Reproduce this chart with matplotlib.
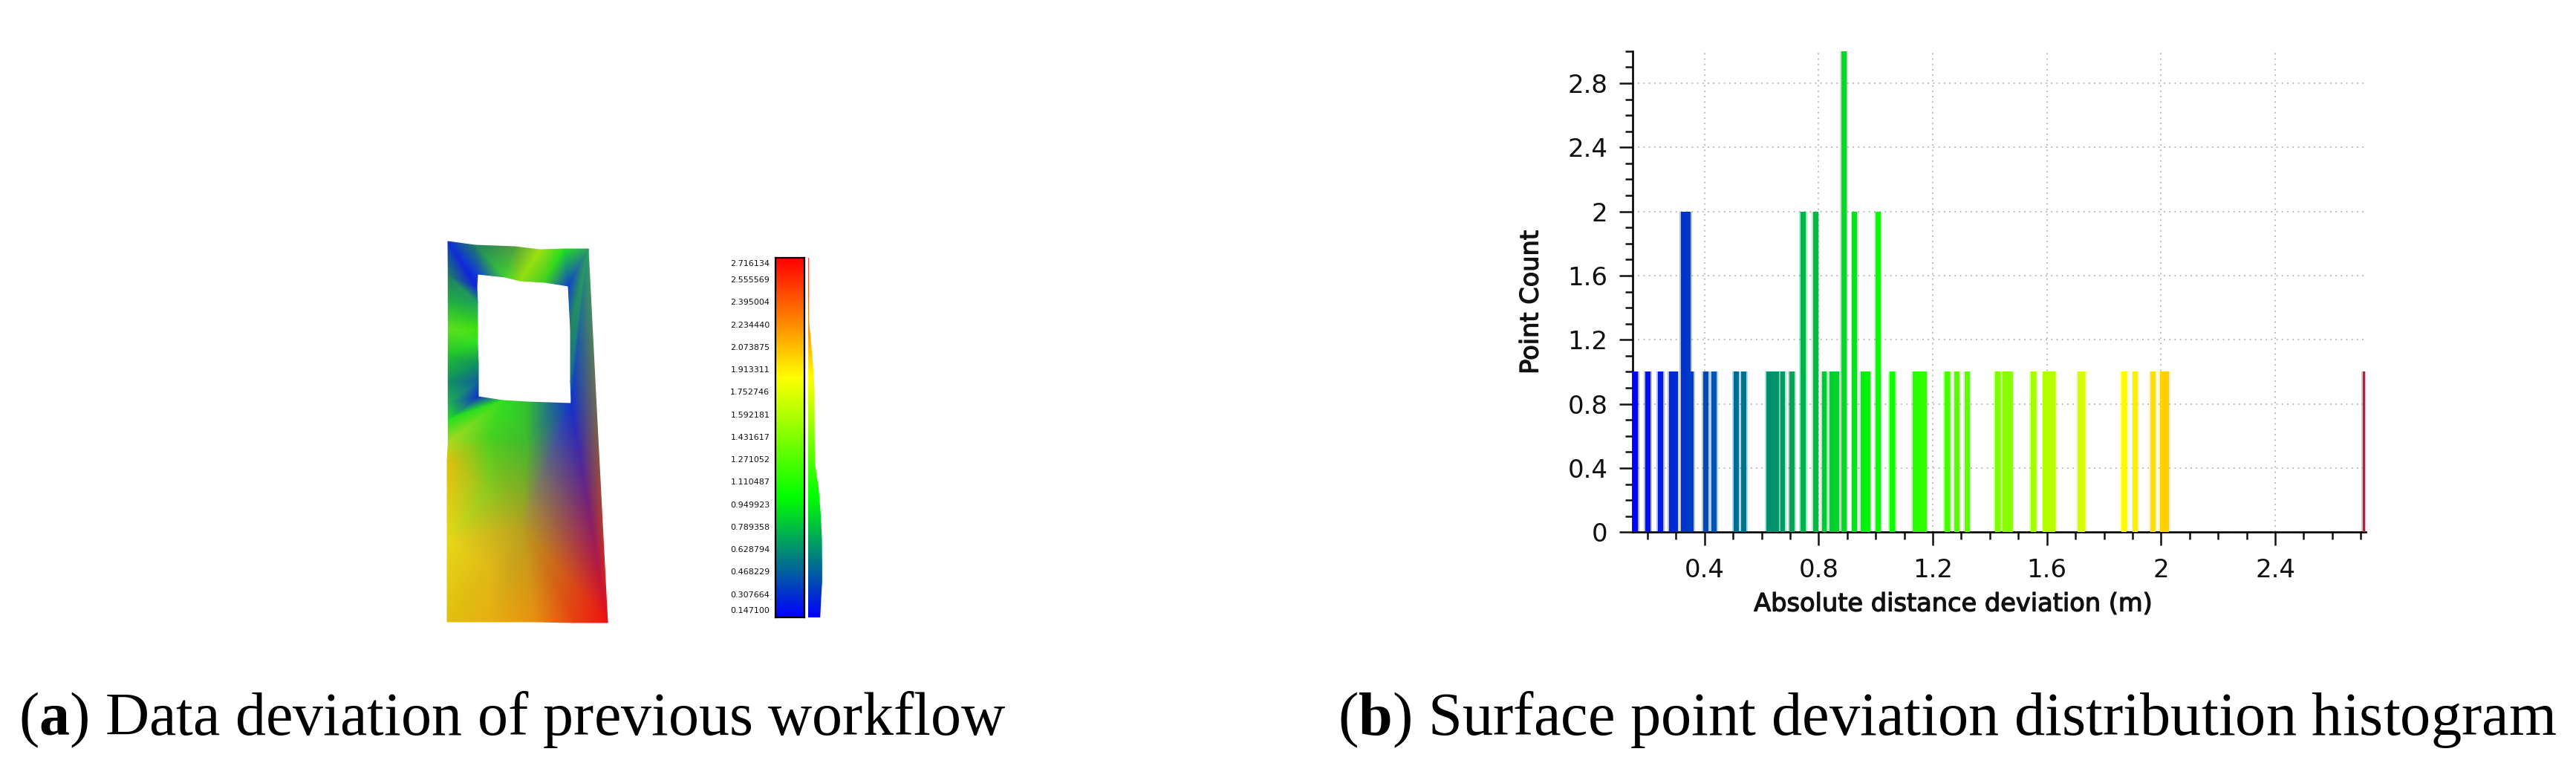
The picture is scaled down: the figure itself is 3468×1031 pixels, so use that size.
#!/usr/bin/python3

import matplotlib
matplotlib.use("Agg")
import matplotlib.pyplot as plt
import matplotlib.patheffects as pe
from matplotlib.collections import TriMesh
from matplotlib.colors import LinearSegmentedColormap, to_rgba
from matplotlib.patches import Polygon
from matplotlib.tri import Triangulation
import numpy as np

W, H = 3468, 1031

plt.rcParams["mathtext.fontset"] = "custom"
plt.rcParams["mathtext.rm"] = "Liberation Serif"
plt.rcParams["mathtext.bf"] = "Liberation Serif:bold"

# --- (a) surface, vertices and their colours
mesh_x = [603, 603.3, 603.3, 603.3, 603.3, 603.3, 603.3, 603.3, 603.3, 602, 602, 602,
          643, 642, 643, 643, 643, 644, 644, 644,
          677, 710, 740, 769, 768, 768, 765, 733, 700, 680,
          640, 693, 727, 760, 792, 818, 720, 773, 660, 710, 660, 703, 803, 660, 660]
mesh_y = [325, 371, 407, 443, 479, 514, 543, 564, 596, 621, 728, 837,
          369, 386, 407, 443, 461, 489, 514, 534,
          539, 541, 542, 543, 514, 443, 385, 380, 378, 373,
          330, 332, 336, 335, 335, 838, 837, 838, 837, 596, 590, 711, 550, 657, 764]
mesh_color = ["#1030d0", "#208060", "#20b040", "#60e020", "#20c030", "#109060", "#20b050", "#20e020",
              "#b0d820", "#e0c010", "#e8d818", "#e0c010",
              "#1040d0", "#1020e0", "#20a060", "#40e010", "#30e020", "#109060", "#1060a0", "#1030d0",
              "#30e020", "#30c030", "#207090", "#1030d0", "#1a6c90", "#208860", "#1040d0",
              "#40d020", "#90e010", "#40d030",
              "#208060", "#50a040", "#a0e010", "#20e020", "#30a060",
              "#f01010", "#e89010", "#e84010", "#e8b010", "#40b830", "#48d020", "#b8a020", "#706850",
              "#88c820", "#e0b818"]
mesh_tri = [(0, 1, 13), (0, 13, 12), (0, 12, 30), (30, 12, 29), (30, 29, 31), (31, 29, 28),
            (31, 28, 32), (32, 28, 27), (32, 27, 33), (33, 27, 26), (33, 26, 34),
            (1, 13, 14), (1, 14, 2), (2, 14, 15), (2, 15, 3), (3, 15, 16), (3, 16, 4),
            (4, 16, 17), (4, 17, 5), (5, 17, 18), (5, 18, 6), (6, 18, 19), (6, 19, 7),
            (7, 19, 20), (7, 20, 8), (8, 20, 40), (8, 40, 9), (9, 40, 43), (40, 41, 43), (40, 20, 39),
            (20, 21, 39), (21, 22, 39), (22, 23, 39), (39, 23, 41), (40, 39, 41),
            (9, 43, 10), (10, 43, 41), (10, 41, 44), (10, 44, 11), (11, 44, 38), (44, 41, 38),
            (38, 41, 36), (36, 41, 37), (37, 41, 35), (41, 23, 35),
            (26, 34, 25), (25, 34, 24), (24, 34, 23), (23, 34, 42), (23, 42, 35)]

# colour scale of (a)
scale_labels = ["2.716134", "2.555569", "2.395004", "2.234440", "2.073875", "1.913311",
                "1.752746", "1.592181", "1.431617", "1.271052", "1.110487", "0.949923",
                "0.789358", "0.628794", "0.468229", "0.307664", "0.147100"]
side_value = [2.716, 2.268, 2.143, 1.963, 1.784, 1.425, 1.246, 1.067, 0.887, 0.708,
              0.529, 0.403, 0.296, 0.147]
side_count = [0.7, 1, 3.4, 6.4, 8.4, 8.8, 9.1, 14.2, 16.9, 18.6, 18.9, 18.9, 17.6, 16.2]

# --- (b) histogram
bar_pos = [0.158, 0.202, 0.246, 0.284, 0.297, 0.327, 0.343, 0.354, 0.405, 0.433, 0.511, 0.538,
           0.626, 0.640, 0.653, 0.674, 0.707, 0.745, 0.789, 0.820, 0.846, 0.863, 0.889, 0.926,
           0.957, 0.972, 1.008, 1.058, 1.139, 1.155, 1.170, 1.250, 1.285, 1.320, 1.428, 1.454,
           1.471, 1.552, 1.595, 1.612, 1.620, 1.717, 1.726, 1.870, 1.910, 1.971, 2.004, 2.019,
           2.711]
bar_count = [1, 1, 1, 1, 1, 2, 2, 1, 1, 1, 1, 1,
             1, 1, 1, 1, 1, 2, 2, 1, 1, 1, 3, 2,
             1, 1, 2, 1, 1, 1, 1, 1, 1, 1, 1, 1,
             1, 1, 1, 1, 1, 1, 1, 1, 1, 1, 1, 1,
             1]
x_major = [0.4, 0.8, 1.2, 1.6, 2.0, 2.4]
x_major_labels = ["0.4", "0.8", "1.2", "1.6", "2", "2.4"]
y_major = [0, 0.4, 0.8, 1.2, 1.6, 2.0, 2.4, 2.8]
y_major_labels = ["0", "0.4", "0.8", "1.2", "1.6", "2", "2.4", "2.8"]
x_minor = [0.2, 0.3, 0.5, 0.6, 0.7, 0.9, 1.0, 1.1, 1.3, 1.4, 1.5, 1.7, 1.8, 1.9, 2.1, 2.2, 2.3, 2.5, 2.6, 2.7]
y_minor = [0.1, 0.2, 0.3, 0.5, 0.6, 0.7, 0.9, 1.0, 1.1, 1.3, 1.4, 1.5, 1.7, 1.8, 1.9, 2.1, 2.2, 2.3, 2.5, 2.6, 2.7, 2.9, 3.0]

val_min, val_max = 0.1471, 2.7161
cmap = LinearSegmentedColormap.from_list("dev", ["#0000ff", "#00ff00", "#ffff00", "#ff0000"])


def px_axes(left, top, right, bottom):
    return fig.add_axes([left / W, 1 - bottom / H, (right - left) / W, (bottom - top) / H])


fig = plt.figure(figsize=(W / 100, H / 100), dpi=100, facecolor="white")

# whole figure in pixels, for the surface and the captions
ax = fig.add_axes([0, 0, 1, 1])
ax.set_xlim(0, W)
ax.set_ylim(H, 0)
ax.axis("off")

tri = Triangulation(mesh_x, mesh_y, mesh_tri)
mesh = TriMesh(tri)
# vertex colours are blended in RGB like the original viewer does (blue to red gives purple)
mesh.set_facecolor([to_rgba(c) for c in mesh_color])
ax.add_collection(mesh)

ax.text(25, 989, r"($\mathbf{a}$) Data deviation of previous workflow", family="Liberation Serif",
        fontsize=59, va="baseline", ha="left", color="black")
ax.text(1801, 989, r"($\mathbf{b}$) Surface point deviation distribution histogram", family="Liberation Serif",
        fontsize=59.3, va="baseline", ha="left", color="black")
semi_bold = [pe.withStroke(linewidth=0.9, foreground="#111111")]
ax.text(2629, 813, "Absolute distance deviation (m)", family="DejaVu Sans",
        fontsize=24.2, ha="center", va="center", color="#111111", path_effects=semi_bold)
ax.text(2061, 407, "Point Count", family="DejaVu Sans", rotation=90,
        fontsize=24.2, ha="center", va="center", color="#111111", path_effects=semi_bold)

# colour scale
ramp = np.linspace(1, 0, 256).reshape(-1, 1)
bar_ax = px_axes(1044, 347, 1083, 831)
bar_ax.imshow(ramp, cmap=cmap, aspect="auto", extent=[0, 1, val_min, val_max])
bar_ax.set_xticks([])
bar_ax.set_yticks([])
for s in bar_ax.spines.values():
    s.set_linewidth(1.6)
for i, label in enumerate(scale_labels):
    v = float(label)
    shift = 0
    if i == 0:
        shift = -5.7  # end labels are pulled into the bar height
    if i == len(scale_labels) - 1:
        shift = 6.7
    bar_ax.annotate(label, xy=(0, v), xycoords=("axes fraction", "data"), xytext=(-5.5, shift),
                    textcoords="offset points", ha="right", va="center", fontsize=8,
                    family="DejaVu Sans", color="#111111", annotation_clip=False)

# little histogram next to the scale
side_ax = px_axes(1088, 347, 1108, 831)
side_ax.set_xlim(0, 20)
side_ax.set_ylim(val_min, val_max)
side_ax.axis("off")
img = side_ax.imshow(ramp, cmap=cmap, aspect="auto", extent=[0, 20, val_min, val_max])
outline = list(zip(side_count, side_value)) + [(0, side_value[-1]), (0, side_value[0])]
clip = Polygon(outline, closed=True, transform=side_ax.transData, facecolor="none", edgecolor="none")
side_ax.add_patch(clip)
img.set_clip_path(clip)

# histogram
hist = px_axes(2197.6, 68.8, 3184.5, 716.3)
hist.set_xlim(val_min, val_max)
hist.set_ylim(0, 3)
hist.patch.set_alpha(0)
bar_colors = cmap((np.array(bar_pos) - val_min) / (val_max - val_min))
bar_colors[-1] = to_rgba("#b0243c")
bar_width = [0.0174] * (len(bar_pos) - 1) + [0.009]
# pale fringe around each bar, the original is a blurry screenshot
hist.bar(bar_pos, bar_count, width=[w + 0.01 for w in bar_width], color=bar_colors, alpha=0.3, zorder=2)
hist.bar(bar_pos, bar_count, width=bar_width, color=bar_colors, zorder=3)

hist.set_xticks(x_major, x_major_labels)
hist.set_yticks(y_major, y_major_labels)
hist.set_xticks(x_minor, minor=True)
hist.set_yticks(y_minor, minor=True)
hist.tick_params(which="major", length=13, width=1.8, labelsize=24.5, colors="#111111")
hist.tick_params(axis="x", which="major", pad=12)
hist.tick_params(axis="y", which="major", pad=11)
hist.tick_params(which="minor", length=7.5, width=1.8, color="#111111")
hist.grid(True, which="major", color="#b4b4b4", linewidth=1.3, linestyle=(0, (1, 3)), zorder=1)
hist.spines["top"].set_visible(False)
hist.spines["right"].set_visible(False)
hist.spines["left"].set_linewidth(1.9)
hist.spines["bottom"].set_linewidth(1.9)

fig.savefig("out.png", dpi=100)
